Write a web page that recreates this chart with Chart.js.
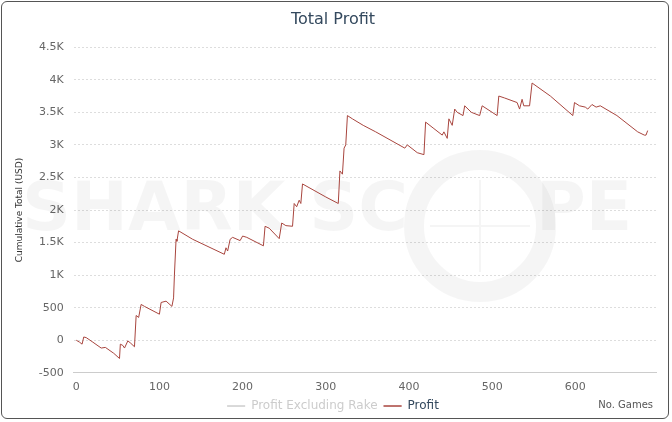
<!DOCTYPE html>
<html><head><meta charset="utf-8">
<script src="https://cdn.jsdelivr.net/npm/chart.js@4"></script>
<style>
html,body{margin:0;padding:0;background:#fff;}
#wrap{position:absolute;left:1px;top:1px;width:668px;height:418px;border:1px solid #555;border-radius:6px;box-sizing:border-box;}
canvas{position:absolute;left:0;top:0;}
</style></head><body>
<div id="wrap"></div>
<canvas id="c" width="672" height="422"></canvas>
<script>
const games = [0,4,7,9,12,20,30,35,45,52,53,56,58,62,65,70,72,75,78,82,100,102,108,115,117,118,120,121,123,140,178,180,182,185,188,197,200,205,225,227,232,244,247,252,260,262,265,268,270,272,300,315,317,320,322,324,326,332,345,360,395,398,410,418,420,430,440,442,446,448,452,455,458,465,467,475,485,488,500,506,508,515,530,533,536,538,545,548,570,597,599,605,612,615,620,625,630,650,675,683,685,687];
const profit = [0,-30,-60,50,40,-30,-120,-110,-200,-280,-60,-80,-120,-10,-40,-100,380,350,550,520,400,580,600,520,650,1000,1550,1520,1680,1550,1320,1420,1370,1550,1580,1530,1600,1580,1450,1750,1720,1560,1800,1760,1750,2100,2050,2150,2100,2400,2200,2100,2600,2550,2950,3000,3450,3400,3300,3200,2950,3000,2880,2850,3350,3250,3150,3200,3100,3400,3300,3550,3500,3450,3600,3500,3450,3600,3500,3450,3750,3720,3650,3550,3700,3600,3600,3950,3750,3450,3650,3600,3580,3550,3620,3580,3600,3450,3200,3150,3150,3220];
const yTicks = [-500,0,500,1000,1500,2000,2500,3000,3500,4000,4500];
const xTicks = [0,100,200,300,400,500,600];
const fmt = v => Math.abs(v)>=1000 ? (v/1000)+'K' : String(v);

const watermark = {id:'wm', beforeDatasetsDraw(ch){
  const c=ch.ctx; c.save();
  c.fillStyle='rgba(0,0,0,0.04)'; c.font='bold 68px "DejaVu Sans"'; c.textBaseline='middle';
  c.fillText('SHARK SC',22,212); c.fillText('PE',536,212);
  c.strokeStyle='rgba(0,0,0,0.04)'; c.lineWidth=20; c.beginPath(); c.arc(480,226,66,0,Math.PI*2); c.stroke();
  c.lineWidth=2; c.beginPath(); c.moveTo(430,226);c.lineTo(530,226);c.moveTo(480,180);c.lineTo(480,272);c.stroke();
  c.restore();
}, afterDraw(ch){
  const c=ch.ctx; c.save(); c.fillStyle='#555'; c.font='10px "DejaVu Sans"'; c.textAlign='right';
  c.fillText('No. Games',653,405); c.restore();
}};

new Chart(document.getElementById('c'), {
  type:'line',
  data:{datasets:[
    {label:'Profit Excluding Rake', data:[], borderColor:'#cccccc', backgroundColor:'#cccccc', borderWidth:1},
    {label:'Profit', data:games.map((g,i)=>({x:g,y:profit[i]})), borderColor:'#a8453e', backgroundColor:'#a8453e', borderWidth:1, pointRadius:0, tension:0}
  ]},
  options:{responsive:false, animation:false,
    layout:{padding:{left:10,right:16,top:2,bottom:0}},
    plugins:{
      title:{display:true,text:'Total Profit',color:'#34495e',font:{family:'"DejaVu Sans"',size:16,weight:'normal'},padding:{top:8,bottom:18}},
      legend:{position:'bottom',labels:{boxWidth:18,boxHeight:0,padding:6,font:{family:'"DejaVu Sans"',size:12},
        generateLabels(ch){return ch.data.datasets.map((d,i)=>({text:d.label,strokeStyle:d.borderColor,fillStyle:d.borderColor,lineWidth:1,fontColor:i===0?'#cccccc':'#34495e',datasetIndex:i}));}}},
      tooltip:{enabled:false}
    },
    scales:{
      x:{type:'linear',min:-3,max:697,afterBuildTicks(s){s.ticks=xTicks.map(v=>({value:v}));},
        grid:{display:false},border:{color:'#ccc'},ticks:{color:'#666',padding:0,font:{family:'"DejaVu Sans"',size:11},callback:v=>String(v)}},
      y:{min:-500,max:4500,afterBuildTicks(s){s.ticks=yTicks.map(v=>({value:v}));},
        title:{display:true,text:'Cumulative Total (USD)',color:'#333',font:{family:'"DejaVu Sans"',size:9}},
        grid:{color:'#ddd',tickLength:0,drawTicks:false},border:{display:false,dash:[2,2]},
        ticks:{color:'#666',padding:10,font:{family:'"DejaVu Sans"',size:11},callback:v=>fmt(v)}}
    }
  },
  plugins:[watermark]
});
</script></body></html>
